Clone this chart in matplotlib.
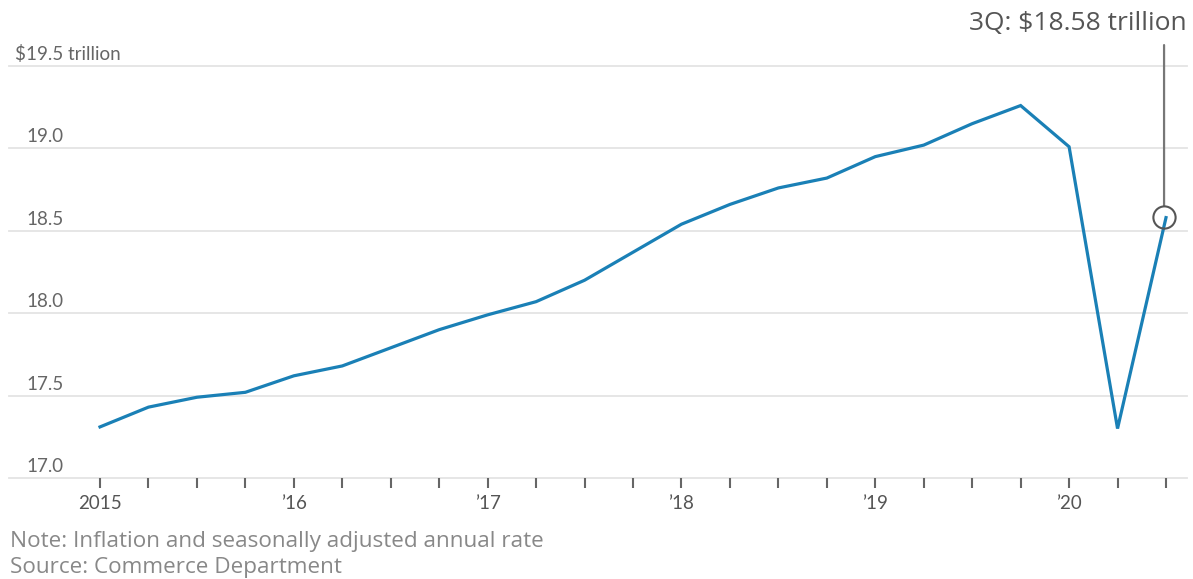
import matplotlib
matplotlib.use("Agg")
import matplotlib.pyplot as plt

# real GDP, quarterly, 2015 Q1 - 2020 Q3 ($ trillion)
quarters = list(range(23))
gdp = [17.31, 17.43, 17.49, 17.52,
       17.62, 17.68, 17.79, 17.90,
       17.99, 18.07, 18.20, 18.37,
       18.54, 18.66, 18.76, 18.82,
       18.95, 19.02, 19.15, 19.26,
       19.01, 17.30, 18.58]
year_ticks = [0, 4, 8, 12, 16, 20]
year_labels = ["2015", "\u201916", "\u201917", "\u201918", "\u201919", "\u201920"]
y_levels = [17.0, 17.5, 18.0, 18.5, 19.0, 19.5]
y_labels = ["17.0", "17.5", "18.0", "18.5", "19.0", "19.5 trillion"]

plt.rcParams["font.family"] = ["Lato", "DejaVu Sans"]

W, H = 1193, 579
fig = plt.figure(figsize=(W / 100, H / 100), dpi=100)
ax = fig.add_axes([9 / W, 1 - 478 / H, (1187 - 9) / W, (478 - 66) / H])

for v in y_levels:
    ax.axhline(v, color="#e4e4e4", lw=1.3, zorder=1, clip_on=False)

ax.plot(quarters, gdp, color="#1a80b6", lw=2.3, zorder=3, solid_joinstyle="miter")

ax.set_xlim(-91 / 48.45, 22 + 21 / 48.45)
ax.set_ylim(17.0, 19.5)
for s in ax.spines.values():
    s.set_visible(False)
ax.set_yticks([])
ax.set_xticks(quarters, minor=True)
ax.set_xticks(year_ticks)
ax.set_xticklabels(year_labels)
ax.tick_params(axis="x", which="both", direction="out", length=7, width=1.5,
               color="#666666", labelsize=13.5, labelcolor="#555555", pad=5)

for v, lab in zip(y_levels, y_labels):
    ax.annotate(lab, xy=(17 / (1187 - 9), v), xycoords=("axes fraction", "data"),
                xytext=(0, 3), textcoords="offset pixels", ha="left", va="bottom",
                fontsize=13.5, color="#666666")
ax.annotate("$", xy=(17 / (1187 - 9), y_levels[-1]), xycoords=("axes fraction", "data"),
            xytext=(-1, 3), textcoords="offset pixels", ha="right", va="bottom",
            fontsize=13.5, color="#666666")

# callout for latest quarter
last_x, last_y = quarters[-1], gdp[-1]
ax.plot([last_x - 0.04], [last_y + 0.005], marker="o", ms=16, mfc="none",
        mec="#555555", mew=1.5, zorder=4, clip_on=False)
ax.annotate("", xy=(last_x - 0.04, last_y), xytext=(last_x - 0.04, 19.627),
            arrowprops=dict(arrowstyle="-", color="#777777", lw=1.6,
                            shrinkA=0, shrinkB=8.5), annotation_clip=False)
fig.text(1187 / W, 1 - 24 / H, "3Q: $18.58 trillion", ha="right", va="center",
         fontsize=19, color="#555555", family=["Open Sans", "DejaVu Sans"])

fig.text(10 / W, 1 - 541 / H, "Note: Inflation and seasonally adjusted annual rate",
         ha="left", va="center", fontsize=16.2, color="#888888",
         family=["Open Sans", "DejaVu Sans"])
fig.text(10 / W, 1 - 568 / H, "Source: Commerce Department",
         ha="left", va="center", fontsize=16.2, color="#888888",
         family=["Open Sans", "DejaVu Sans"])

fig.savefig("out.png", dpi=100)
